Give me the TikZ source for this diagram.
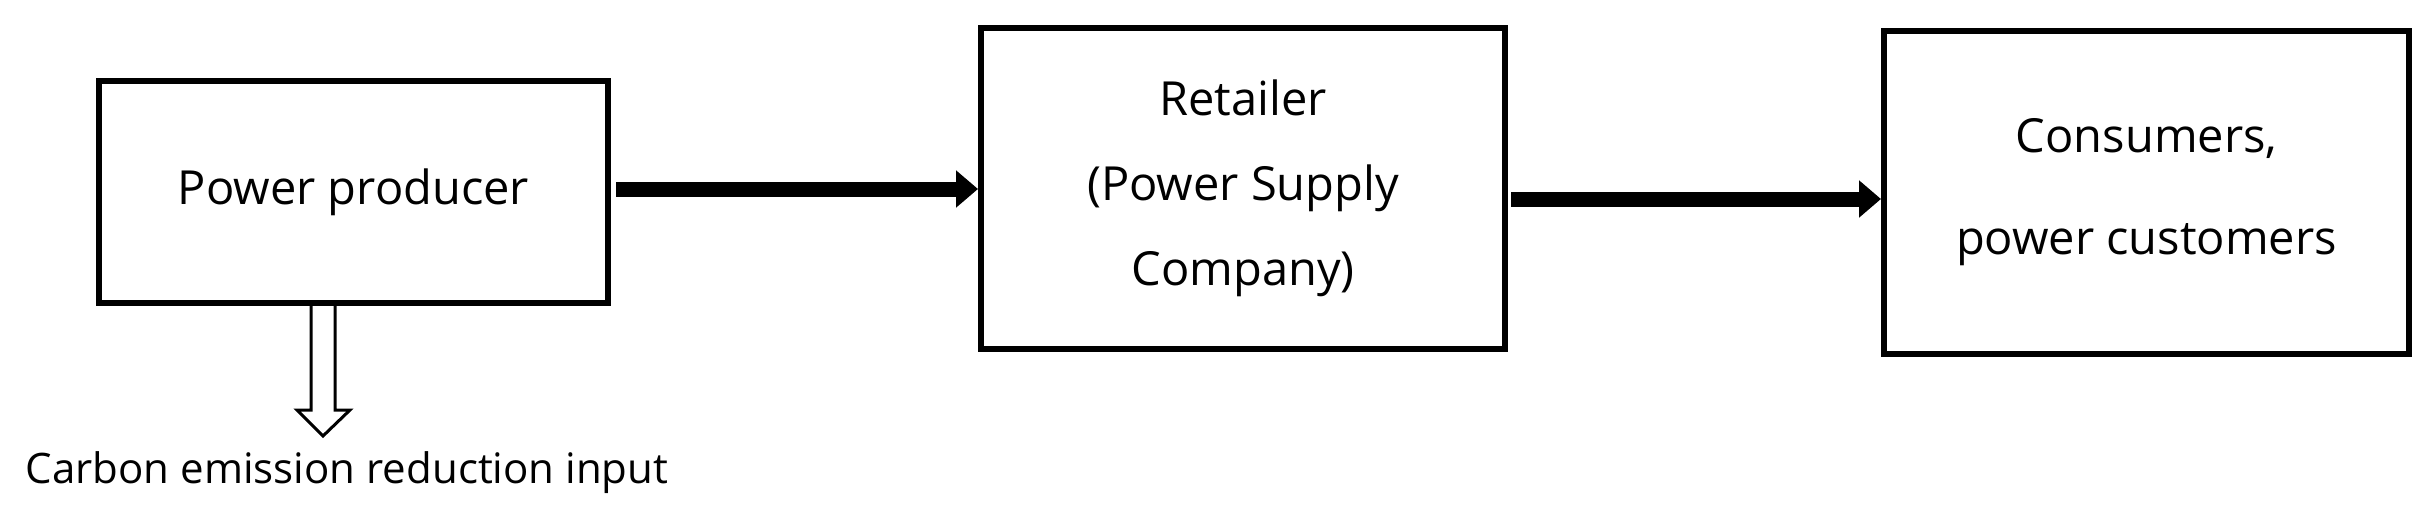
\documentclass[tikz,border=0pt]{standalone}
\usepackage{fontspec}
\setmainfont{Open Sans}
\usetikzlibrary{arrows.meta}
\begin{document}
\begin{tikzpicture}[x=1pt,y=-1pt,
  box/.style={draw,line width=6pt,minimum width=#1,align=center,font=\fontsize{47}{85}\selectfont},
  flow/.style={line width=15pt,-{Triangle[length=22pt,width=36pt]}}]
\useasboundingbox (0,0) rectangle (2433,525);
\node[box,minimum width=509pt,minimum height=222pt] (pp) at (353.5,192) {Power producer};
\node[box,minimum width=524pt,minimum height=321pt] (rt) at (1243,188.5) {Retailer\\(Power Supply\\Company)};
\node[box,minimum width=525pt,minimum height=323pt,font=\fontsize{47}{102}\selectfont] (cs) at (2146.5,192.5) {Consumers,\\power customers};
\node[font=\fontsize{42}{50}\selectfont] (ce) at (347,473) {Carbon emission reduction input};
\draw[flow] (pp.east |- 0,189) ++(5,0) -- (rt.west |- 0,189);
\draw[flow] (rt.east |- 0,199) ++(3,0) -- (cs.west |- 0,199);
\draw[line width=3pt,fill=white,line join=miter]
  (pp.south -| 311,0) -- (311,410) -- (297,410) -- (323,436) -- (350,410) -- (335,410) -- (pp.south -| 335,0);
\end{tikzpicture}
\end{document}
